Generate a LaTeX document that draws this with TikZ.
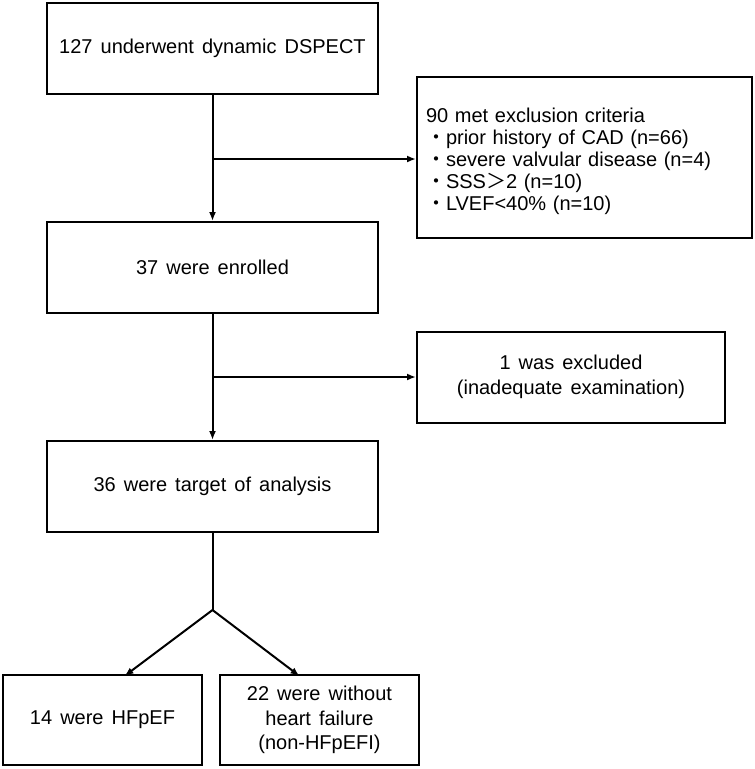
\documentclass[tikz,border=0pt]{standalone}
\usepackage{fontspec}
\setmainfont[WordSpace=1.45]{Liberation Sans}
\newfontfamily\cjk{Noto Sans CJK JP}
\usetikzlibrary{positioning,arrows.meta}
\begin{document}
\begin{tikzpicture}[x=1pt,y=-1pt]
\tikzstyle{box}=[draw,line width=2pt,minimum width=331pt,minimum height=91pt,inner sep=0pt,align=center,font=\fontsize{20}{24.5}\selectfont]
\tikzstyle{arr}=[-{Latex[length=9pt,width=7pt]},line width=2pt]
\useasboundingbox (0,0) rectangle (755,769);
    \node[box] (1) at (212.5,48.5) {127 underwent dynamic DSPECT};
    \node[box] (2) at (212.5,267.5) {37 were enrolled};
    \node[box] (3) at (212.5,486.5) {36 were target of analysis};
    \node[box,minimum width=335pt,minimum height=161pt,text width=317pt,align=left] (e1) at (584.5,157.5)
      {\rule{0pt}{22pt}90 met exclusion criteria\\[-2.5pt]
       {\cjk ・}prior history of CAD (n=66)\\[-2.5pt]
       {\cjk ・}severe valvular disease (n=4)\\[-2.5pt]
       {\cjk ・}SSS{\cjk ＞}2 (n=10)\\[-2.5pt]
       {\cjk ・}LVEF<40\% (n=10)};
    \node[box,minimum width=308pt] (e2) at (571,377) {1 was excluded\\(inadequate examination)};
    \node[box,minimum width=199pt,minimum height=90pt] (4) at (102.5,720) {14 were HFpEF};
    \node[box,minimum width=199pt,minimum height=90pt] (5) at (319.5,720) {22 were without\\heart failure\\(non-HFpEFI)};
    \coordinate (j1) at (212.5,159);
    \coordinate (j2) at (212.5,377);
    \coordinate (s) at (212.5,610);
    \draw[arr] (1) to (2);
    \draw[arr] (j1) to (j1 -| e1.west);
    \draw[arr] (2) to (3);
    \draw[arr] (j2) to (e2);
    \draw[line width=2pt] (3) to (s);
    \draw[arr] (s) to ([xshift=22pt,yshift=-2pt]4.north);
    \draw[arr] (s) to ([xshift=-20pt,yshift=-2pt]5.north);
  \end{tikzpicture}
\end{document}
